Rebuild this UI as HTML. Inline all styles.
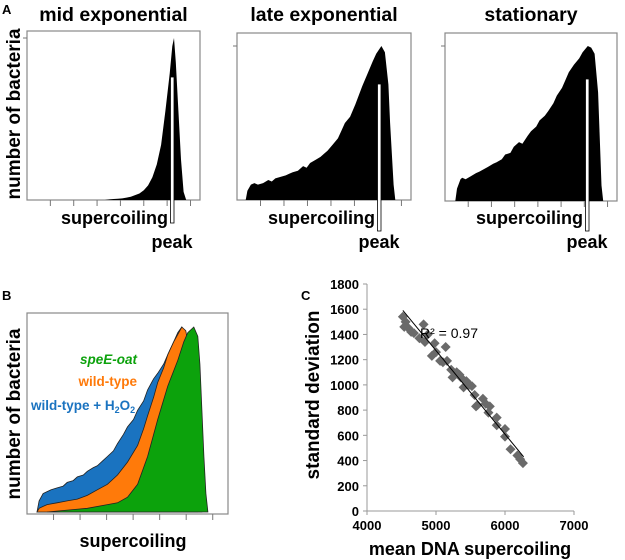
<!DOCTYPE html>
<html><head><meta charset="utf-8"><style>
body{margin:0;background:#fff;}
svg{display:block;font-family:"Liberation Sans",Arial,sans-serif;}
text{font-weight:bold;}
</style></head><body>
<svg id="fig" width="625" height="560" viewBox="0 0 625 560">
<g id="gA"></g>
<g id="gB"></g>
<g id="gC"></g>
</svg>
<script>
// Panel A data (supercoiling bin, relative count)
const midX=[0,45,47.5,50,52.5,55,57.5,60,62.5,65,67.5,70,72.5,75,77.5,80,82.5,84,85,86,87.5,89,90.5,92];
const midY=[0,0,0.4,0.6,0.8,1,1.5,2,3,4,6,9,14,22,34,55,78,95,100,85,55,25,5,0];
const lateX=[5,6,8,10,12,15,18,20,22,25,28,30,32,35,38,40,42,45,48,50,52,55,58,60,62,65,68,70,72,75,78,80,83,85,87,88,90,91];
const lateY=[0,6,10,11,10,11,13,12,14,15,16,17,18,19,22,21,24,26,28,30,32,36,40,45,50,54,62,68,74,82,90,95,100,96,75,50,10,0];
const statX=[6,7,9,10,12,15,18,20,25,28,30,33,35,38,40,43,45,48,50,53,55,58,60,63,65,68,70,72,75,78,80,83,85,87,89,90,91,92];
const statY=[0,8,14,15,14,16,18,19,22,24,25,27,30,31,35,38,37,42,45,48,52,55,58,63,68,73,78,83,88,92,96,100,99,95,70,40,10,0];
const aTitles=["mid exponential","late exponential","stationary"];
// Panel B data
const blueX=[5,6,8,10,12,15,18,20,23,25,28,30,33,35,38,40,43,45,48,50,53,55,58,60,63,65,68,70,73,75,77,79,81,83,85];
const blueY=[0,6,10,11,12,13,14,16,17,19,20,22,24,25,28,30,33,37,42,46,50,55,60,66,72,75,80,85,92,97,100,97,60,20,0];
const orangeX=[5,6,8,10,15,20,25,30,35,40,45,50,55,58,60,63,65,68,70,73,75,77,79,81,83,85,87];
const orangeY=[0,2,3,4,5,6,7,9,12,15,20,27,36,45,52,62,70,78,85,92,96,100,98,85,40,10,0];
const greenX=[10,20,30,40,45,50,55,60,65,70,75,78,80,83,85,86,87,88,89,90];
const greenY=[0,1,2,4,5,8,15,30,50,68,82,92,97,100,95,80,55,30,10,0];
// Panel C data
const cMean=[4520,4540,4560,4600,4640,4680,4760,4820,4840,4880,4940,4980,5000,5060,5100,5140,5160,5220,5240,5300,5340,5360,5400,5440,5480,5520,5560,5580,5600,5680,5720,5760,5780,5880,5880,6000,6000,6080,6180,6220,6260];
const cSd=[1540,1460,1500,1450,1420,1410,1370,1480,1340,1400,1230,1330,1260,1190,1180,1300,1190,1120,1060,1100,1080,1060,980,1030,1000,990,920,830,840,890,850,780,830,740,680,650,590,490,440,410,380];
const cXTicks=[4000,5000,6000,7000];
const cYTicks=[0,200,400,600,800,1000,1200,1400,1600,1800];
const trendX=[4520,6270];
const trendY=[1590,430];

const NS="http://www.w3.org/2000/svg";
function mk(parent,tag,attrs,txt){const e=document.createElementNS(NS,tag);for(const k in attrs)e.setAttribute(k,attrs[k]);if(txt!==undefined)e.textContent=txt;parent.appendChild(e);return e;}
function areaPath(xs,ys,sx,sy){let d="M"+sx(xs[0])+","+sy(0);for(let i=0;i<xs.length;i++)d+="L"+sx(xs[i]).toFixed(1)+","+sy(ys[i]).toFixed(1);d+="L"+sx(xs[xs.length-1])+","+sy(0)+"Z";return d;}

// Panel A
const gA=document.getElementById('gA');
let lab=mk(gA,'text',{x:2,y:14,'font-size':13});lab.textContent="A";


const boxes=[{l:27,r:200,t:31,b:200,peak:172},{l:237,r:411,t:33,b:200,peak:379},{l:445,r:617,t:33,b:201,peak:587}];
const dsX=[midX,lateX,statX],dsY=[midY,lateY,statY];
const barTop=[77,84,79];
boxes.forEach((bx,i)=>{
  const g=mk(gA,'g',{});
  
  
  const w=bx.r-bx.l;
  const sx=v=>bx.l+v/100*w;
  const sy=v=>bx.b-v/100*(bx.b-38-(i?8:0));
  const t=mk(g,'text',{x:(bx.l+bx.r)/2,y:21,'font-size':19.5,'text-anchor':'middle'},aTitles[i]);
  
  
  const rect=mk(g,'rect',{x:bx.l,y:bx.t,width:w,height:bx.b-bx.t,fill:'none',stroke:'#888','stroke-width':1.2});
  
  
  const p=mk(g,'path',{d:areaPath(dsX[i],dsY[i],sx,sy),fill:'#000'});
  
  
  for(let k=1;k<=7;k++){const tx=bx.l+k*w*0.135;const tk=mk(g,'line',{x1:tx,x2:tx,y1:bx.b,y2:bx.b+6,stroke:'#777'});
    
    }
  const yt=mk(g,'line',{x1:bx.l-4,x2:bx.l,y1:sy(100),y2:sy(100),stroke:'#777'});
  
  
  const wb=mk(g,'rect',{x:bx.peak-1.5,y:barTop[i],width:3.5,height:223-barTop[i]+(i?8:0),fill:'#fff',stroke:'#000','stroke-width':0.8});
  
  
  const s=mk(g,'text',{x:bx.peak-4,y:224,'font-size':18,'text-anchor':'end'},'supercoiling');
  
  
  const pk=mk(g,'text',{x:bx.peak+0,y:248,'font-size':18,'text-anchor':'middle'},'peak');
  
  
});
let ya=mk(gA,'text',{transform:'translate(20,114) rotate(-90)','font-size':19,'text-anchor':'middle'},'number of bacteria');



// Panel B
const gB=document.getElementById('gB');
lab=mk(gB,'text',{x:2,y:300,'font-size':13},'B');


const B={l:27,r:228,t:313,b:512};
const bsx=v=>B.l+v/100*(B.r-B.l);
const bsy=v=>B.b-v/100*185;
const bf=mk(gB,'rect',{x:B.l,y:B.t,width:B.r-B.l,height:B.b-B.t+2,fill:'none',stroke:'#888','stroke-width':1.2});


[[blueX,blueY,'#1a73c0','blue-area'],[orangeX,orangeY,'#ff7a0a','orange-area'],[greenX,greenY,'#0ca20c','green-area']].forEach(s=>{
  const p=mk(gB,'path',{d:areaPath(s[0],s[1],bsx,bsy),fill:s[2],stroke:'#222','stroke-width':0.8});
  
  
});
for(let k=1;k<=7;k++){const tx=bsx(k*13.2);const tk=mk(gB,'line',{x1:tx,x2:tx,y1:B.b+2,y2:B.b+8,stroke:'#777'});
  
  }
let t1=mk(gB,'text',{x:137,y:364,'font-size':13.5,'text-anchor':'end',fill:'#0ca20c','font-style':'italic'},'speE-oat');


let t2=mk(gB,'text',{x:137,y:386,'font-size':13.5,'text-anchor':'end',fill:'#ff7a0a'},'wild-type');


let t3=mk(gB,'text',{x:31,y:410,'font-size':13.5,fill:'#1a73c0'});
t3.innerHTML='wild-type + H<tspan font-size="9" dy="3">2</tspan><tspan dy="-3">O</tspan><tspan font-size="9" dy="3">2</tspan>';


let bx1=mk(gB,'text',{x:133,y:547,'font-size':18,'text-anchor':'middle'},'supercoiling');


let by1=mk(gB,'text',{transform:'translate(20,414) rotate(-90)','font-size':19,'text-anchor':'middle'},'number of bacteria');



// Panel C
const gC=document.getElementById('gC');
lab=mk(gC,'text',{x:301,y:300,'font-size':13},'C');


const csx=v=>367+(v-4000)/3000*207;
const csy=v=>511-v/1800*227;
let ax=mk(gC,'line',{x1:csx(4000),x2:csx(7000),y1:csy(0),y2:csy(0),stroke:'#999'});


let ay=mk(gC,'line',{x1:csx(4000),x2:csx(4000),y1:csy(0),y2:csy(1800),stroke:'#999'});


cXTicks.forEach(v=>{
  const tk=mk(gC,'line',{x1:csx(v),x2:csx(v),y1:csy(0),y2:csy(0)+4,stroke:'#999'});
  
  
  const tl=mk(gC,'text',{x:csx(v),y:530,'font-size':13,'text-anchor':'middle'},String(v));
  
  
});
cYTicks.forEach(v=>{
  const tk=mk(gC,'line',{x1:csx(4000)-4,x2:csx(4000),y1:csy(v),y2:csy(v),stroke:'#999'});
  
  
  const tl=mk(gC,'text',{x:359,y:csy(v)+5,'font-size':13,'text-anchor':'end'},String(v));
  
  
});
cMean.forEach((m,i)=>{
  const x=csx(m),y=csy(cSd[i]);
  const d=mk(gC,'path',{d:`M${x},${y-5}L${x+5},${y}L${x},${y+5}L${x-5},${y}Z`,fill:'#6a6a6a'});
  
  
});
let tl=mk(gC,'line',{x1:csx(trendX[0]),y1:csy(trendY[0]),x2:csx(trendX[1]),y2:csy(trendY[1]),stroke:'#000','stroke-width':1});


let r2=mk(gC,'text',{x:420,y:338,'font-size':14,style:'font-weight:normal'},'R² = 0.97');


let cxT=mk(gC,'text',{x:470,y:555,'font-size':18,'text-anchor':'middle'},'mean DNA supercoiling');


let cyT=mk(gC,'text',{transform:'translate(319,395) rotate(-90)','font-size':19,'text-anchor':'middle'},'standard deviation');


</script>
</body></html>
